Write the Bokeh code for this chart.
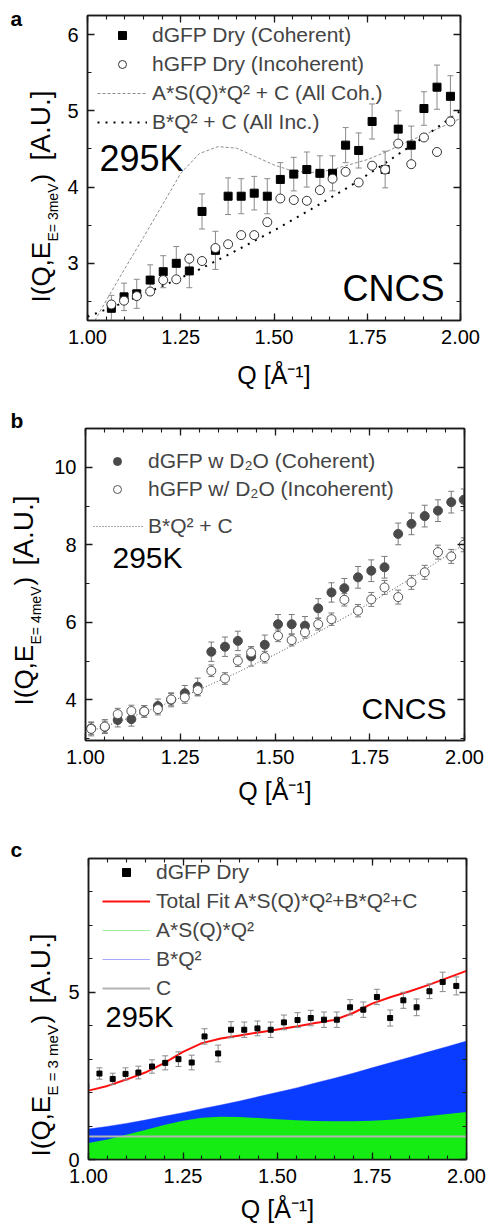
import math
from bokeh.plotting import figure
from bokeh.models import (Range1d, LinearAxis, SingleIntervalTicker, PrintfTickFormatter,
                          Label, Legend, LegendItem)
from bokeh.layouts import column, row
from bokeh.embed import file_html
from bokeh.resources import INLINE

FONT = "Liberation Sans"
AX = "#1a1a1a"

# ---------------- data: dGFP / hGFP dry (panels a and c) ----------------
q_dry = [0.994, 1.029, 1.064, 1.098, 1.132, 1.168, 1.203, 1.238, 1.273, 1.307, 1.343, 1.377,
         1.412, 1.447, 1.482, 1.517, 1.553, 1.588, 1.623, 1.657, 1.692, 1.727, 1.763, 1.798,
         1.833, 1.868, 1.902, 1.937, 1.973]
i_dgfp_dry = [2.19, 2.57, 2.41, 2.56, 2.60, 2.78, 2.89, 3.00, 2.90, 3.68, 3.17, 3.88, 3.88, 3.92,
              3.88, 4.10, 4.17, 4.23, 4.18, 4.18, 4.55, 4.48, 4.86, 4.23, 4.76, 4.55, 5.03, 5.31, 5.19]
err_dgfp_dry = [0.20, 0.17, 0.17, 0.18, 0.19, 0.20, 0.21, 0.22, 0.22, 0.23, 0.25, 0.24, 0.23, 0.22,
                0.23, 0.22, 0.22, 0.23, 0.23, 0.23, 0.23, 0.23, 0.23, 0.24, 0.24, 0.25, 0.22, 0.29, 0.27]
q_dry_a = q_dry[2:]
i_hgfp_dry = [2.46, 2.51, 2.57, 2.63, 2.78, 2.79, 3.06, 3.03, 3.20, 3.25, 3.37, 3.37, 3.54, 3.85,
              3.83, 3.82, 3.96, 4.11, 4.20, 4.06, 4.28, 4.23, 4.57, 4.30, 4.65, 4.46, 4.86]

q_fit = [1.00, 1.05, 1.10, 1.15, 1.20, 1.25, 1.30, 1.35, 1.40, 1.45, 1.50,
         1.55, 1.60, 1.65, 1.70, 1.75, 1.80, 1.85, 1.90, 1.95, 2.00]
coh_fit_a = [2.08, 2.51, 2.93, 3.34, 3.76, 4.18, 4.44, 4.53, 4.51, 4.40, 4.29,
             4.21, 4.19, 4.22, 4.29, 4.36, 4.46, 4.58, 4.68, 4.79, 4.90]
q_fit10 = [1.0, 1.1, 1.2, 1.3, 1.4, 1.5, 1.6, 1.7, 1.8, 1.9, 2.0]
inc_fit_a = [2.30, 2.49, 2.70, 2.92, 3.17, 3.43, 3.71, 4.00, 4.32, 4.65, 5.00]

# ---------------- data: with D2O (panel b) ----------------
q_wet = [1.015, 1.051, 1.085, 1.121, 1.155, 1.191, 1.226, 1.262, 1.296, 1.332, 1.368, 1.402,
         1.437, 1.473, 1.508, 1.544, 1.579, 1.614, 1.649, 1.683, 1.719, 1.754, 1.789, 1.825,
         1.860, 1.895, 1.930, 1.965, 1.998]
i_dgfp_wet = [3.26, 3.30, 3.48, 3.50, 3.70, 3.84, 4.00, 4.17, 4.34, 5.24, 5.37, 5.52, 5.12, 5.42,
              5.95, 5.95, 5.91, 6.36, 6.77, 6.88, 7.16, 7.33, 7.42, 8.28, 8.54, 8.74, 8.88, 9.10, 9.16]
err_dgfp_wet = [0.15, 0.15, 0.18, 0.18, 0.15, 0.18, 0.18, 0.20, 0.22, 0.25, 0.25, 0.25, 0.25, 0.25,
                0.25, 0.25, 0.24, 0.25, 0.25, 0.25, 0.28, 0.28, 0.28, 0.28, 0.28, 0.28, 0.28, 0.28, 0.28]
i_hgfp_wet = [3.25, 3.31, 3.63, 3.71, 3.70, 3.76, 4.01, 4.06, 4.25, 4.75, 4.55, 5.01, 5.22, 5.10,
              5.65, 5.54, 5.74, 5.95, 6.08, 6.58, 6.30, 6.59, 6.90, 6.65, 7.03, 7.29, 7.81, 7.70, 8.00]
err_hgfp_wet = [0.18, 0.18, 0.15, 0.15, 0.15, 0.15, 0.15, 0.15, 0.15, 0.15, 0.15, 0.15, 0.15, 0.15,
                0.15, 0.15, 0.15, 0.15, 0.16, 0.16, 0.16, 0.18, 0.18, 0.18, 0.18, 0.18, 0.18, 0.18, 0.18]
inc_fit_b = [3.14, 3.48, 3.85, 4.26, 4.70, 5.17, 5.67, 6.21, 6.78, 7.38, 8.02]

# ---------------- data: fit decomposition (panel c) ----------------
total_fit_c = [2.06, 2.20, 2.39, 2.60, 2.88, 3.22, 3.48, 3.62, 3.71, 3.80, 3.89,
               3.98, 4.08, 4.17, 4.38, 4.66, 4.86, 5.03, 5.22, 5.43, 5.64]
coh_part_c = [0.49, 0.60, 0.74, 0.88, 1.03, 1.16, 1.25, 1.28, 1.27, 1.24, 1.20,
              1.17, 1.15, 1.14, 1.14, 1.16, 1.19, 1.24, 1.30, 1.36, 1.42]
inc_part_c = [0.91, 0.99, 1.08, 1.18, 1.29, 1.40, 1.52, 1.63, 1.75, 1.88, 2.01,
              2.14, 2.29, 2.43, 2.58, 2.74, 2.90, 3.06, 3.22, 3.38, 3.54]
const_c = [0.69] * len(q_fit)

X_TITLE = "Q [Å⁻¹]"


def no_frame_align(f):
    try:
        f.frame_align = False
    except Exception:
        pass


def style_axis(ax, labels):
    ax.axis_line_color = AX
    ax.axis_line_width = 1.5
    ax.major_tick_line_color = AX
    ax.minor_tick_line_color = AX
    ax.major_tick_line_width = 1.3
    ax.minor_tick_line_width = 1.1
    ax.major_tick_in = 7
    ax.major_tick_out = 0
    ax.minor_tick_in = 4
    ax.minor_tick_out = 0
    if labels:
        ax.major_label_text_font = FONT
        ax.major_label_text_font_size = "20px"
        ax.major_label_text_color = "black"
        ax.major_label_standoff = 9
    else:
        ax.formatter = PrintfTickFormatter(format="")
        ax.major_label_text_font_size = "1px"
        ax.major_label_standoff = 0


def make_panel(width, height, yr, borders, y_int, y_minor, xl_standoff):
    l, r, t, b = borders
    p = figure(width=width, height=height, x_range=Range1d(1.0, 2.0), y_range=Range1d(*yr),
               output_backend="svg", toolbar_location=None,
               min_border_left=l, min_border_right=r, min_border_top=t, min_border_bottom=b)
    no_frame_align(p)
    p.grid.visible = False
    p.outline_line_color = AX
    p.outline_line_width = 1.5
    xt = SingleIntervalTicker(interval=0.25, num_minor_ticks=5)
    yt = SingleIntervalTicker(interval=y_int, num_minor_ticks=y_minor)
    p.xaxis.ticker = xt
    p.xaxis.formatter = PrintfTickFormatter(format="%.2f")
    p.yaxis.ticker = yt
    p.add_layout(LinearAxis(ticker=xt), "above")
    p.add_layout(LinearAxis(ticker=yt), "right")
    style_axis(p.below[0], True)
    style_axis(p.left[0], True)
    style_axis(p.above[0], False)
    style_axis(p.right[0], False)
    xa = p.below[0]
    xa.axis_label = X_TITLE
    xa.axis_label_text_font = FONT
    xa.axis_label_text_font_size = "25px"
    xa.axis_label_text_font_style = "normal"
    xa.axis_label_text_color = "black"
    xa.axis_label_standoff = xl_standoff
    return p


def text_fig(width, height):
    f = figure(width=width, height=height, x_range=Range1d(0, 1), y_range=Range1d(0, 1),
               output_backend="svg", toolbar_location=None, min_border=0,
               min_border_left=0, min_border_right=0, min_border_top=0, min_border_bottom=0,
               x_axis_location=None, y_axis_location=None)
    no_frame_align(f)
    f.outline_line_color = None
    f.grid.visible = False
    return f


def add_text(p, fl, fb, x, y, text, size, angle=0.0, bold=False, align="left"):
    # (x, y): page position of the text start on its baseline
    shift = 0.3465 * size
    if angle == 0.0:
        xc, yc = x, y - shift
    else:
        xc, yc = x - shift, y
    p.add_layout(Label(x=xc - fl, y=fb - yc, x_units="screen", y_units="screen", text=text,
                       text_font=FONT, text_font_size=f"{size}px",
                       text_font_style="bold" if bold else "normal",
                       text_align=align, text_baseline="middle", angle=angle,
                       text_color="black"))


def errbars(p, q, v, e, color):
    lo = [a - b for a, b in zip(v, e)]
    hi = [a + b for a, b in zip(v, e)]
    p.segment(x0=q, y0=lo, x1=q, y1=hi, line_color=color, line_width=1)
    p.scatter(x=list(q) + list(q), y=lo + hi, marker="dash", size=6, line_color=color, line_width=1)


def y_label(f, fb, xb, y0, sub, y_sub, y_par, y_au, sub_size=14):
    rot = math.pi / 2
    add_text(f, 0, fb, xb, y0, "I(Q,E", 26, angle=rot)
    add_text(f, 0, fb, xb + 7, y_sub, sub, sub_size, angle=rot)
    add_text(f, 0, fb, xb, y_par, ")", 26, angle=rot)
    add_text(f, 0, fb, xb, y_au, "[A.U.]", 28, angle=rot)


def legend(items, loc, lh, gw, standoff):
    return Legend(items=items, location=loc, padding=0, spacing=0, margin=0, label_height=lh,
                  glyph_width=gw, glyph_height=20, label_standoff=standoff,
                  label_text_font=FONT, label_text_font_size="21px",
                  border_line_alpha=0, background_fill_alpha=0)


# ================= panel a (page y 0..400) =================
pa = make_panel(424, 400, (2.25, 6.25), (23, 28, 15, 80), 1, 2, 14)
FLa, FBa = 87, 320
r_coh = pa.line(q_fit, coh_fit_a, line_color="#8c8c8c", line_width=1, line_dash="3 2")
r_inc = pa.line(q_fit10, inc_fit_a, line_color="black", line_width=2, line_dash="2 6")
errbars(pa, q_dry_a, i_dgfp_dry[2:], err_dgfp_dry[2:], "#8a8a8a")
r_sq = pa.scatter(q_dry_a, i_dgfp_dry[2:], marker="square", size=8, color="black")
r_ci = pa.scatter(q_dry_a, i_hgfp_dry, marker="circle", size=9, fill_color="white",
                  line_color="#333333", line_width=1)
pa.add_layout(legend([LegendItem(label="dGFP Dry (Coherent)", renderers=[r_sq]),
                      LegendItem(label="hGFP Dry (Incoherent)", renderers=[r_ci]),
                      LegendItem(label="A*S(Q)*Q² + C (All Coh.)", renderers=[r_coh]),
                      LegendItem(label="B*Q² + C (All Inc.)", renderers=[r_inc])],
                     (10, 184), 29, 50, 5))
add_text(pa, FLa, FBa, 99, 170, "295K", 36)
add_text(pa, FLa, FBa, 444, 300, "CNCS", 36, align="right")
ta = text_fig(64, 400)
add_text(ta, 0, 400, 10, 25, "a", 21, bold=True)
y_label(ta, 400, 50, 302, "E= 3meV", 241, 182, 160)

# ================= panel b (page y 400..820) =================
pb = make_panel(440, 420, (2.95, 11.0), (37, 24, 28, 80), 2, 2, 10)
FLb, FBb = 85, 740
r_incb = pb.line(q_fit10, inc_fit_b, line_color="#555555", line_width=1, line_dash="1 2")
errbars(pb, q_wet, i_dgfp_wet, err_dgfp_wet, "#7a7a7a")
errbars(pb, q_wet, i_hgfp_wet, err_hgfp_wet, "#7a7a7a")
r_fb = pb.scatter(q_wet, i_dgfp_wet, marker="circle", size=9, fill_color="#4a4a4a",
                  line_color="#4a4a4a")
r_ob = pb.scatter(q_wet, i_hgfp_wet, marker="circle", size=9, fill_color="white",
                  line_color="#555555", line_width=1)
pb.add_layout(legend([LegendItem(label="dGFP w D₂O (Coherent)", renderers=[r_fb]),
                      LegendItem(label="hGFP w/ D₂O (Incoherent)", renderers=[r_ob])],
                     (7, 237), 28, 50, 6))
pb.add_layout(legend([LegendItem(label="B*Q² + C", renderers=[r_incb])], (8, 200), 28, 50, 5))
add_text(pb, FLb, FBb, 112, 567, "295K", 30)
add_text(pb, FLb, FBb, 446, 718, "CNCS", 30, align="right")
tb = text_fig(48, 420)
add_text(tb, 0, 820, 10, 427, "b", 21, bold=True)
y_label(tb, 820, 33, 705, "E= 4meV", 644, 585, 565)

# ================= panel c (page y 820..1225) =================
pc = make_panel(424, 405, (0.0, 9.0), (24, 22, 38, 63), 5, 5, 9)
FLc, FBc = 88, 1162
r_bl = pc.line(q_fit, inc_part_c, line_color="#a8a8ff", line_width=1)
r_gl = pc.line(q_fit, coh_part_c, line_color="#a0f0a0", line_width=1)
pc.varea(x=q_fit, y1=[0.0] * len(q_fit), y2=inc_part_c, fill_color="#0a3cff")
pc.varea(x=q_fit, y1=[0.0] * len(q_fit), y2=coh_part_c, fill_color="#14ec14")
r_c = pc.line(q_fit, const_c, line_color="#b4b4b4", line_width=2)
r_tot = pc.line(q_fit, total_fit_c, line_color="#ff1010", line_width=2)
errbars(pc, q_dry, i_dgfp_dry, err_dgfp_dry, "#8a8a8a")
r_sqc = pc.scatter(q_dry, i_dgfp_dry, marker="square", size=5, color="black")
pc.add_layout(legend([LegendItem(label="dGFP Dry", renderers=[r_sqc]),
                      LegendItem(label="Total Fit A*S(Q)*Q²+B*Q²+C", renderers=[r_tot]),
                      LegendItem(label="A*S(Q)*Q²", renderers=[r_gl]),
                      LegendItem(label="B*Q²", renderers=[r_bl]),
                      LegendItem(label="C", renderers=[r_c])],
                     (14, 157), 29, 48, 6))
add_text(pc, FLc, FBc, 105, 1030, "295K", 29)
tc = text_fig(64, 405)
add_text(tc, 0, 1225, 10, 856, "c", 21, bold=True)
y_label(tc, 1225, 50, 1156, "E = 3 meV", 1095, 1023, 1003, sub_size=15)

layout = column(row(ta, pa), row(tb, pb), row(tc, pc))
open("out.html", "w").write(file_html(layout, INLINE))
